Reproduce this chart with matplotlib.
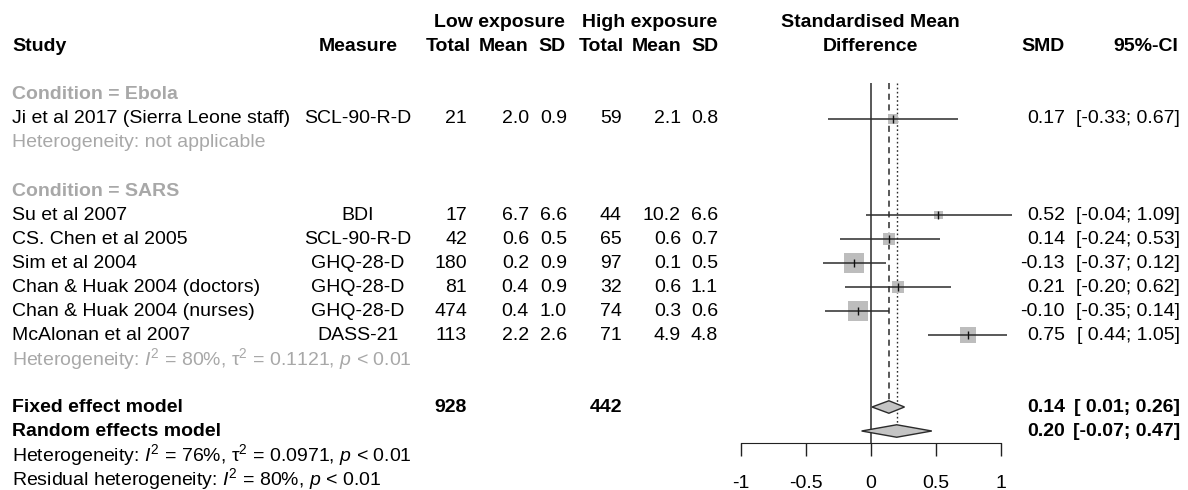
import numpy as np
import matplotlib
matplotlib.use("Agg")
import matplotlib.pyplot as plt
from matplotlib.transforms import blended_transform_factory
from matplotlib.patches import Polygon

plt.rcParams['font.family'] = ['Liberation Sans', 'DejaVu Sans']
plt.rcParams['mathtext.fontset'] = 'custom'
plt.rcParams['mathtext.rm'] = 'Liberation Sans'
plt.rcParams['mathtext.it'] = 'Liberation Sans:italic'
plt.rcParams['mathtext.bf'] = 'Liberation Sans:bold'

# data
studies = ["Ji et al 2017 (Sierra Leone staff)", "Su et al 2007", "CS. Chen et al 2005",
           "Sim et al 2004", "Chan & Huak 2004 (doctors)", "Chan & Huak 2004 (nurses)",
           "McAlonan et al 2007"]
measure = ["SCL-90-R-D", "BDI", "SCL-90-R-D", "GHQ-28-D", "GHQ-28-D", "GHQ-28-D", "DASS-21"]
n_low = [21, 17, 42, 180, 81, 474, 113]
mean_low = [2.0, 6.7, 0.6, 0.2, 0.4, 0.4, 2.2]
sd_low = [0.9, 6.6, 0.5, 0.9, 0.9, 1.0, 2.6]
n_high = [59, 44, 65, 97, 32, 74, 71]
mean_high = [2.1, 10.2, 0.6, 0.1, 0.6, 0.3, 4.9]
sd_high = [0.8, 6.6, 0.7, 0.5, 1.1, 0.6, 4.8]
smd = [0.17, 0.52, 0.14, -0.13, 0.21, -0.10, 0.75]
ci_lo = [-0.33, -0.04, -0.24, -0.37, -0.20, -0.35, 0.44]
ci_hi = [0.67, 1.09, 0.53, 0.12, 0.62, 0.14, 1.05]
weight = [6.4, 5.0, 10.4, 25.8, 9.4, 26.2, 16.7]   # fixed effect weights (%), estimated

fixed = (0.14, 0.01, 0.26)
random_ = (0.20, -0.07, 0.47)
total_low, total_high = 928, 442

# row index of every line of the table
study_rows = [3, 7, 8, 9, 10, 11, 12]
fixed_row, random_row = 15, 16

W, H = 1188, 490
fig = plt.figure(figsize=(W / 100, H / 100), dpi=100)

# forest panel: x=0 at 870.7px, 130px per unit; rows 24px apart, row 0 at 47px
x0, ppu = 870.7, 130.0
xlim = (-1.5, 1.5)
left_px = x0 + xlim[0] * ppu
ax = fig.add_axes([left_px / W, (H - 443) / H, (xlim[1] - xlim[0]) * ppu / W, 443 / H])
ax.set_xlim(*xlim)
ax.set_ylim(16.5, -47 / 24)
ax.patch.set_visible(False)
for s in ['top', 'right', 'left']:
    ax.spines[s].set_visible(False)
ax.spines['bottom'].set_bounds(-1, 1)
ax.spines['bottom'].set_color('#222222')
ax.set_yticks([])
ax.set_xticks([-1, -0.5, 0, 0.5, 1])
ax.set_xticklabels(['-1', '-0.5', '0', '0.5', '1'])
ax.tick_params(axis='x', direction='out', length=9, width=1, color='#222222',
               labelsize=14, pad=14)

line_c = '#2b2b2b'
grey_txt = '#a8a8a8'

# reference lines
ax.vlines(0, 1.5, 16.5, color=line_c, lw=1.1, zorder=1)
ax.vlines(fixed[0], 1.5, fixed_row - 0.25, color=line_c, lw=1.1, linestyles=(0, (4, 3)), zorder=1)
ax.vlines(random_[0], 1.5, random_row - 0.25, color=line_c, lw=1.0, linestyles=(0, (1.2, 1.8)), zorder=1)

# squares sized by weight, CI lines and point ticks
side_pt = 3.9 * np.sqrt(weight) * 0.72
ax.scatter(smd, study_rows, s=side_pt ** 2, marker='s', color='#bdbdbd', lw=0, zorder=2)
ax.hlines(study_rows, ci_lo, ci_hi, color=line_c, lw=1.1, zorder=3, clip_on=False)
ax.scatter(smd, study_rows, s=40, marker='|', color='#111111', lw=1.0, zorder=4)

# summary diamonds
for (est, lo, hi), r in [(fixed, fixed_row), (random_, random_row)]:
    ax.add_patch(Polygon([(lo, r), (est, r - 0.26), (hi, r), (est, r + 0.26)],
                         closed=True, facecolor='#c4c4c4', edgecolor=line_c, lw=1.0, zorder=3))

tr = blended_transform_factory(fig.transFigure, ax.transData)


def put(xpx, row, s, ha='left', bold=False, color='black'):
    fig.text(xpx / W, row, s, transform=tr, ha=ha, va='center', fontsize=14,
             fontweight='bold' if bold else 'normal', color=color)


# headers
put(499.5, -1, "Low exposure", ha='center', bold=True)
put(649.5, -1, "High exposure", ha='center', bold=True)
put(x0, -1, "Standardised Mean", ha='center', bold=True)
put(12, 0, "Study", bold=True)
put(358, 0, "Measure", ha='center', bold=True)
for xc, h in [(448, "Total"), (503.5, "Mean"), (552, "SD"),
              (601, "Total"), (656.5, "Mean"), (704.5, "SD")]:
    put(xc, 0, h, ha='center', bold=True)
put(x0, 0, "Difference", ha='center', bold=True)
put(1065, 0, "SMD", ha='right', bold=True)
put(1178, 0, "95%-CI", ha='right', bold=True)

# subgroup labels
put(12, 2, "Condition = Ebola", bold=True, color=grey_txt)
put(12, 4, "Heterogeneity: not applicable", color=grey_txt)
put(12, 6, "Condition = SARS", bold=True, color=grey_txt)
put(12, 13, r"Heterogeneity: $I^2$ = 80%, $\mathrm{\tau}^2$ = 0.1121, $p$ < 0.01", color=grey_txt)

# study rows
for i, r in enumerate(study_rows):
    put(12, r, studies[i])
    put(358, r, measure[i], ha='center')
    put(467, r, str(n_low[i]), ha='right')
    put(529, r, f"{mean_low[i]:.1f}", ha='right')
    put(567, r, f"{sd_low[i]:.1f}", ha='right')
    put(622, r, str(n_high[i]), ha='right')
    put(681, r, f"{mean_high[i]:.1f}", ha='right')
    put(718, r, f"{sd_high[i]:.1f}", ha='right')
    put(1065, r, f"{smd[i]:.2f}", ha='right')
    put(1180, r, f"[{ci_lo[i]:5.2f}; {ci_hi[i]:.2f}]", ha='right')

# pooled rows
put(12, fixed_row, "Fixed effect model", bold=True)
put(467, fixed_row, str(total_low), ha='right', bold=True)
put(622, fixed_row, str(total_high), ha='right', bold=True)
put(1065, fixed_row, f"{fixed[0]:.2f}", ha='right', bold=True)
put(1180, fixed_row, f"[{fixed[1]:5.2f}; {fixed[2]:.2f}]", ha='right', bold=True)
put(12, random_row, "Random effects model", bold=True)
put(1065, random_row, f"{random_[0]:.2f}", ha='right', bold=True)
put(1180, random_row, f"[{random_[1]:5.2f}; {random_[2]:.2f}]", ha='right', bold=True)
put(12, 17, r"Heterogeneity: $I^2$ = 76%, $\mathrm{\tau}^2$ = 0.0971, $p$ < 0.01")
put(12, 18, r"Residual heterogeneity: $I^2$ = 80%, $p$ < 0.01")

fig.savefig("out.png", dpi=100)
